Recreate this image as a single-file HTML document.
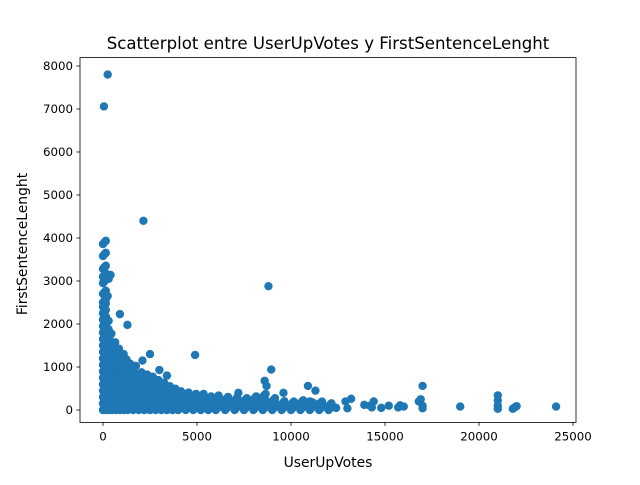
<!DOCTYPE html>
<html><head><meta charset="utf-8"><style>
body{margin:0;background:#fff;font-family:"Liberation Sans","DejaVu Sans",sans-serif}
svg text{font-family:"DejaVu Sans","Liberation Sans",sans-serif;fill:#000}
</style></head><body>
<svg id="chart" width="640" height="480" viewBox="0 0 640 480">
<rect width="640" height="480" fill="#fff"/>
<text x="328" y="49" font-size="16.6" text-anchor="middle">Scatterplot entre UserUpVotes y FirstSentenceLenght</text>
<text x="328" y="467" font-size="13.9" text-anchor="middle">UserUpVotes</text>
<text transform="translate(27,244) rotate(-90)" font-size="13.9" text-anchor="middle">FirstSentenceLenght</text>
<g id="points"></g>
<g id="axes"></g>
</svg>
<script>
const xTicks=[0,5000,10000,15000,20000,25000];
const yTicks=[0,1000,2000,3000,4000,5000,6000,7000,8000];
const outlierX=[50,250,2150,8800,400,300,250,900,1300,2500,4900,2100,8950,3000,3400,1100,8600,8700,7200,9600,10900,11300,12900,13200,14400,14200,15200,15700,15800,16900,17000,16800,17000,17000,19000,21000,21000,21000,21000,21800,22000,21900,24100,9800,10200,11000,11500,12200,12400,13000,14800,16000,14300,11800,13900];
const outlierY=[7060,7800,4400,2880,3140,3050,2650,2230,1980,1300,1280,1150,940,930,800,1300,680,560,400,400,560,450,200,260,200,100,100,60,110,250,560,200,100,40,80,340,220,100,30,30,90,60,80,100,150,200,150,100,50,40,50,80,60,80,120];
const colX=[0,150,300,500,700,900,1100,1300,1600,1900,2200,2500,2800,3100,3400,3700,4000,4400,4800,5200,5600,6000,6500,7000,7500,8000,8500,9000,9500,10000,10500,11000,11500,12000];
const colY=[
[0,150,300,450,600,750,900,1050,1200,1350,1500,1650,1800,1950,2100,2250,2400,2500,2700,2950,3100,3280,3580,3860],
[0,150,300,450,600,750,900,1050,1200,1350,1500,1650,1800,2000],
[0,150,300,450,600,750,900,1050,1200,1350,1500,1700],
[0,150,300,450,600,750,900,1050,1200,1350,1500],
[0,150,300,450,600,750,900,1050,1200,1350],
[0,150,300,450,600,750,900,1050,1200],
[0,150,300,450,600,750,900,1100],
[0,150,300,450,600,750,900,1000],
[0,150,300,450,600,750,950],
[0,150,300,450,600,800],
[0,150,300,450,600,750],
[0,150,300,450,600,700],
[0,150,300,450,620],
[0,150,300,450,560],
[0,150,300,480],
[0,150,300,420],
[0,150,250,360],
[0,150,330],
[0,150,300],
[0,150,300],
[0,120,240],
[0,130,260],
[0,120,230],
[0,110,220],
[0,100,200],
[0,120,240],
[0,150,300],
[0,100,200],
[0,130],
[0,120],
[0,150],
[0,100],
[0,120],
[0,80]];
const NS='http://www.w3.org/2000/svg';
const L=80,R=576,T=57.6,B=422.4;
const xMin=-1223,xMax=25160,yMin=-288,yMax=8195;
const sx=v=>L+(v-xMin)/(xMax-xMin)*(R-L);
const sy=v=>B-(v-yMin)/(yMax-yMin)*(B-T);
const pts=document.getElementById('points');
function dot(x,y){
 const c=document.createElementNS(NS,'circle');
 c.setAttribute('cx',sx(x));c.setAttribute('cy',sy(y));c.setAttribute('r',4.2);c.setAttribute('fill','#1f77b4');
 
 
 pts.appendChild(c);
}
colX.forEach((x,i)=>{colY[i].forEach(y=>{dot(x,y);dot(x+75,y+40);dot(x+150,y+75);});});
outlierX.forEach((x,i)=>dot(x,outlierY[i]));
const ax=document.getElementById('axes');
function el(tag,attrs){const e=document.createElementNS(NS,tag);for(const k in attrs)e.setAttribute(k,attrs[k]);ax.appendChild(e);return e;}
const frame=el('rect',{x:L,y:T,width:R-L,height:B-T,fill:'none',stroke:'#000','stroke-width':0.8});


xTicks.forEach(v=>{
 const x=sx(v);
 const t=el('line',{x1:x,x2:x,y1:B,y2:B+3.5,stroke:'#000','stroke-width':0.8});
 
 
 const tx=el('text',{x:x,y:B+18,'font-size':11.8,'text-anchor':'middle'});tx.textContent=v;
 
 
});
yTicks.forEach(v=>{
 const y=sy(v);
 const t=el('line',{x1:L-3.5,x2:L,y1:y,y2:y,stroke:'#000','stroke-width':0.8});
 
 
 const tx=el('text',{x:L-7,y:y+4,'font-size':11.8,'text-anchor':'end'});tx.textContent=v;
 
 
});
</script>
</body></html>
